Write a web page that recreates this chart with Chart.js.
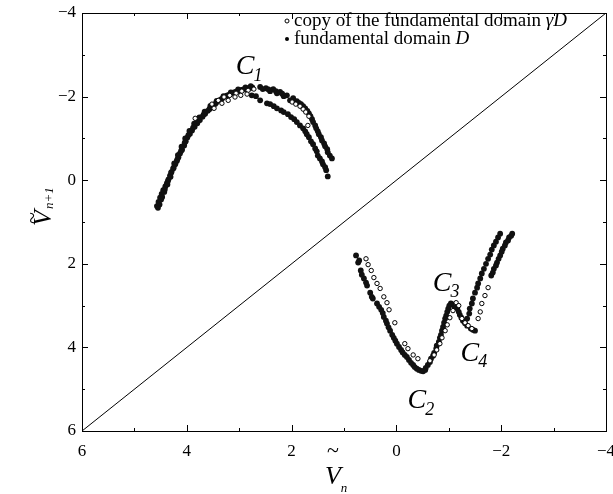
<!DOCTYPE html>
<html>
<head>
<meta charset="utf-8">
<script src="https://cdn.jsdelivr.net/npm/chart.js@4.4.1/dist/chart.umd.min.js"></script>
<style>
  html, body { margin: 0; padding: 0; background: #fff; }
  #wrap { width: 613px; height: 494px; }
</style>
</head>
<body>
<div id="wrap"><canvas id="returnMap" width="613" height="494"></canvas></div>
<script>
// axis range (both axes run "backwards") and tick step
const axisMin = -4;
const axisMax = 6;
const tickStep = 2;

// fundamental domain D, [V_n, V_n+1] per branch
const c1Left = [
  [4.57, 0.62], [4.54, 0.52], [4.51, 0.42], [4.48, 0.33], [4.45, 0.24], [4.41, 0.15],
  [4.38, 0.07], [4.35, -0.02], [4.32, -0.11], [4.29, -0.20], [4.26, -0.28], [4.22, -0.38],
  [4.19, -0.46], [4.16, -0.55], [4.13, -0.64], [4.09, -0.73], [4.05, -0.83], [4.02, -0.93],
  [3.99, -1.02], [3.94, -1.11], [3.90, -1.19], [3.85, -1.28], [3.80, -1.36], [3.75, -1.44],
  [3.70, -1.52], [3.65, -1.59], [3.60, -1.66], [3.55, -1.73], [3.50, -1.79], [3.44, -1.85],
  [3.38, -1.91], [3.31, -1.97], [3.24, -2.02], [3.17, -2.06], [3.10, -2.10], [3.03, -2.13],
  [2.96, -2.16], [2.89, -2.18], [2.82, -2.20], [2.75, -2.22],
  [4.52, 0.58], [4.47, 0.40], [4.42, 0.22], [4.36, 0.02], [4.30, -0.18], [4.24, -0.40],
  [4.17, -0.60], [4.10, -0.80], [4.03, -1.00], [3.95, -1.18], [3.86, -1.35], [3.76, -1.50],
  [3.66, -1.64], [3.55, -1.78], [3.43, -1.90], [3.30, -2.01], [3.16, -2.10], [3.02, -2.17],
  [2.88, -2.22], [2.78, -2.25],
  [4.55, 0.66], [4.49, 0.46], [4.43, 0.28], [4.37, 0.10], [4.31, -0.08], [4.25, -0.30],
  [4.18, -0.50], [4.11, -0.70], [4.04, -0.90], [3.97, -1.08], [3.88, -1.26], [3.78, -1.43],
  [3.68, -1.57], [3.57, -1.70], [3.46, -1.82], [3.34, -1.94], [3.20, -2.04], [3.06, -2.12],
  [2.92, -2.17], [2.80, -2.20]
];
const c1Outer = [
  [2.60, -2.23], [2.49, -2.20], [2.35, -2.18], [2.22, -2.11], [2.09, -2.03], [1.97, -1.96],
  [1.90, -1.89], [1.82, -1.82], [1.74, -1.72], [1.67, -1.60], [1.61, -1.46], [1.55, -1.31],
  [1.50, -1.17], [1.44, -1.03], [1.38, -0.88], [1.32, -0.74], [1.27, -0.59], [1.23, -0.52],
  [2.55, -2.18], [2.41, -2.13], [2.28, -2.08], [2.15, -2.01], [2.03, -1.91], [1.59, -1.39],
  [1.53, -1.24], [1.48, -1.10], [1.42, -0.95], [1.36, -0.81], [1.31, -0.67],
  [2.44, -2.17], [2.30, -2.13], [2.18, -2.07], [1.86, -1.85], [1.78, -1.77], [1.70, -1.66],
  [1.64, -1.53]
];
const c1Inner = [
  [2.76, -2.03], [2.68, -2.01], [2.60, -1.91], [2.47, -1.84], [2.34, -1.77], [2.20, -1.67],
  [2.07, -1.58], [1.95, -1.46], [1.84, -1.31], [1.74, -1.17], [1.67, -1.03], [1.59, -0.86],
  [1.52, -0.69], [1.46, -0.52], [1.40, -0.38], [1.34, -0.24], [1.31, -0.09],
  [2.15, -1.63], [2.01, -1.51], [1.90, -1.39], [1.78, -1.24], [1.71, -1.10], [1.63, -0.93],
  [1.55, -0.76], [1.50, -0.59], [1.42, -0.45], [1.36, -0.31], [2.41, -1.82], [2.28, -1.72]
];
const vLeft = [
  [0.77, 1.80], [0.73, 1.97], [0.68, 2.16], [0.62, 2.35], [0.56, 2.52], [0.50, 2.69],
  [0.45, 2.83], [0.37, 2.95], [0.29, 3.10], [0.24, 3.27], [0.18, 3.43], [0.12, 3.60],
  [0.05, 3.77], [-0.01, 3.91], [-0.09, 4.06], [-0.16, 4.18], [-0.24, 4.30], [-0.32, 4.42],
  [-0.39, 4.51], [-0.47, 4.56], [-0.55, 4.54],
  [0.71, 1.92], [0.66, 2.26], [0.58, 2.45], [0.47, 2.79], [0.33, 3.03], [0.20, 3.36],
  [0.08, 3.70], [-0.05, 3.99], [-0.20, 4.23], [-0.35, 4.47],
  [0.26, 3.18], [0.15, 3.52], [0.02, 3.84], [-0.12, 4.12], [-0.28, 4.37], [-0.43, 4.54],
  [-0.51, 4.57]
];
const vRight = [
  [-0.60, 4.42], [-0.66, 4.27], [-0.72, 4.13], [-0.77, 3.96], [-0.83, 3.77], [-0.87, 3.60],
  [-0.91, 3.41], [-0.95, 3.24], [-0.99, 3.07], [-1.04, 2.95], [-1.10, 3.00], [-1.16, 3.07],
  [-1.21, 3.22], [-1.27, 3.36], [-1.35, 3.48], [-1.42, 3.55], [-1.50, 3.60],
  [-0.56, 4.49], [-0.64, 4.35], [-0.70, 4.20], [-0.76, 4.03], [-0.81, 3.87], [-0.85, 3.70],
  [-0.89, 3.51], [-0.93, 3.31], [-0.97, 3.15], [-1.01, 3.00],
  [-1.07, 2.97], [-1.13, 3.03], [-1.19, 3.15], [-1.24, 3.29], [-1.31, 3.42], [-1.46, 3.58]
];
const strandA = [
  [-1.35, 3.31], [-1.40, 3.07], [-1.46, 2.83], [-1.54, 2.57], [-1.60, 2.35], [-1.67, 2.12],
  [-1.75, 1.88], [-1.82, 1.66], [-1.90, 1.47], [-1.98, 1.28],
  [-1.39, 3.19], [-1.44, 2.95], [-1.50, 2.69], [-1.56, 2.47], [-1.63, 2.23], [-1.71, 2.00],
  [-1.79, 1.78], [-1.86, 1.56], [-1.94, 1.37]
];
const strandB = [
  [-1.81, 2.28], [-1.86, 2.12], [-1.92, 1.97], [-1.98, 1.80], [-2.03, 1.64], [-2.09, 1.49],
  [-2.15, 1.37], [-2.21, 1.28],
  [-1.84, 2.21], [-1.90, 2.04], [-1.95, 1.88], [-2.01, 1.71], [-2.07, 1.56], [-2.13, 1.44],
  [-2.19, 1.33]
];

// copy of the fundamental domain, gamma D
const copyC1 = [
  [3.84, -1.48], [3.52, -1.82], [3.40, -1.91], [3.29, -1.99], [3.18, -2.03], [3.06, -2.08],
  [2.95, -2.13], [2.83, -2.15], [2.72, -2.18], [3.48, -1.72], [3.33, -1.84], [3.21, -1.91],
  [3.08, -1.99], [2.97, -2.03], [2.85, -2.06],
  [1.99, -1.87], [1.92, -1.82], [1.84, -1.77], [1.78, -1.70], [1.73, -1.63], [1.67, -1.53],
  [1.69, -1.31]
];
const copyVLeft = [
  [0.58, 1.88], [0.54, 2.02], [0.48, 2.16], [0.43, 2.33], [0.37, 2.47], [0.31, 2.59],
  [0.24, 2.79], [0.18, 2.93], [0.14, 3.10], [0.03, 3.41], [-0.16, 3.91], [-0.22, 4.03],
  [-0.32, 4.18], [-0.41, 4.27]
];
const copyVRight = [
  [-0.64, 4.32], [-0.72, 4.18], [-0.77, 4.06], [-0.83, 3.91], [-0.87, 3.77], [-0.93, 3.60],
  [-0.97, 3.46], [-1.02, 3.29], [-1.08, 3.12], [-1.14, 2.93], [-1.19, 3.00], [-1.25, 3.31],
  [-1.31, 3.41], [-1.37, 3.48], [-1.44, 3.55],
  [-1.56, 3.31], [-1.60, 3.15], [-1.63, 2.95], [-1.69, 2.76], [-1.75, 2.57]
];

// V_n+1 = V_n
const diagonal = [[axisMax, axisMax], [axisMin, axisMin]];

const domainPts = [...c1Left, ...c1Outer, ...c1Inner, ...vLeft, ...vRight, ...strandA, ...strandB];
const copyPts = [...copyC1, ...copyVLeft, ...copyVRight];

const SERIF = '"Liberation Serif", "DejaVu Serif", serif';

// curve labels: data-space anchor of the C, then subscript
const curveLabels = [
  { sub: '1', x: 2.89, y: -2.71 },
  { sub: '2', x: -0.39, y: 5.28 },
  { sub: '3', x: -0.87, y: 2.47 },
  { sub: '4', x: -1.40, y: 4.15 }
];

function fmtTick(v) {
  return v < 0 ? '\u2212' + Math.abs(v) : String(v);
}

// box round the plot with small inward ticks on every side
const frameTicks = {
  id: 'frameTicks',
  afterDatasetsDraw(chart) {
    const { ctx, chartArea: a, scales: { x, y } } = chart;
    ctx.save();
    ctx.strokeStyle = '#000';
    ctx.lineWidth = 1;
    ctx.beginPath();
    ctx.moveTo(a.left, a.top + 0.5);
    ctx.lineTo(a.right + 0.5, a.top + 0.5);
    ctx.lineTo(a.right + 0.5, a.bottom);
    ctx.stroke();
    ctx.beginPath();
    for (let v = axisMin; v <= axisMax; v++) {
      const len = v % tickStep === 0 ? 6 : 3;
      const px = Math.round(x.getPixelForValue(v)) + 0.5;
      const py = Math.round(y.getPixelForValue(v)) + 0.5;
      ctx.moveTo(px, a.bottom); ctx.lineTo(px, a.bottom - len);
      ctx.moveTo(px, a.top); ctx.lineTo(px, a.top + len);
      ctx.moveTo(a.left, py); ctx.lineTo(a.left + len, py);
      ctx.moveTo(a.right, py); ctx.lineTo(a.right - len, py);
    }
    ctx.stroke();
    ctx.restore();
  }
};

// legend in the top right corner, axis titles and curve names
const annotations = {
  id: 'annotations',
  afterDraw(chart) {
    const { ctx, scales: { x, y } } = chart;
    ctx.save();
    ctx.fillStyle = '#000';
    ctx.strokeStyle = '#000';
    ctx.textBaseline = 'middle';

    // legend
    const rows = [
      { text: 'copy of the fundamental domain ', sym: '\u03b3D', open: true, y: 21 },
      { text: 'fundamental domain ', sym: 'D', open: false, y: 39 }
    ];
    rows.forEach(r => {
      ctx.beginPath();
      ctx.arc(287, r.y, 2, 0, Math.PI * 2);
      if (r.open) {
        ctx.fillStyle = '#fff'; ctx.fill();
        ctx.lineWidth = 1; ctx.stroke();
        ctx.fillStyle = '#000';
      } else {
        ctx.fill();
      }
      ctx.textAlign = 'left';
      ctx.font = '19px ' + SERIF;
      ctx.fillText(r.text, 294, r.y);
      const w = ctx.measureText(r.text).width;
      ctx.font = 'italic 19px ' + SERIF;
      ctx.fillText(r.sym, 294 + w, r.y);
    });

    // curve names C1..C4
    curveLabels.forEach(l => {
      const px = x.getPixelForValue(l.x);
      const py = y.getPixelForValue(l.y);
      ctx.textAlign = 'center';
      ctx.font = 'italic 28px ' + SERIF;
      ctx.fillText('C', px, py);
      ctx.font = 'italic 18px ' + SERIF;
      ctx.fillText(l.sub, px + 13, py + 9);
    });

    // x title: V~ with subscript n
    ctx.textAlign = 'center';
    ctx.font = '22px ' + SERIF;
    ctx.fillText('~', 333, 451);
    ctx.font = 'italic 26px ' + SERIF;
    ctx.fillText('V', 333, 477);
    ctx.font = 'italic 13px ' + SERIF;
    ctx.fillText('n', 344, 489);

    // y title, rotated: V~ with subscript n+1
    ctx.translate(44, 218);
    ctx.rotate(-Math.PI / 2);
    ctx.font = '22px ' + SERIF;
    ctx.fillText('~', 0, -11);
    ctx.font = 'italic 26px ' + SERIF;
    ctx.fillText('V', 0, 0);
    ctx.font = 'italic 13px ' + SERIF;
    ctx.textAlign = 'left';
    ctx.fillText('n+1', 9, 6);
    ctx.restore();
  }
};

const axisCommon = {
  type: 'linear',
  min: axisMin,
  max: axisMax,
  reverse: true,
  border: { display: true, color: '#000', width: 1 },
  grid: { display: true, drawOnChartArea: false, drawTicks: false },
  ticks: {
    stepSize: tickStep,
    color: '#000',
    font: { family: SERIF, size: 17 },
    callback: fmtTick
  }
};

new Chart(document.getElementById('returnMap'), {
  type: 'scatter',
  data: {
    datasets: [
      {
        label: 'copy of the fundamental domain \u03b3D',
        data: copyPts,
        order: 0,
        pointRadius: 2.2,
        pointBorderWidth: 1,
        pointBackgroundColor: '#fff',
        pointBorderColor: '#000'
      },
      {
        label: 'fundamental domain D',
        data: domainPts,
        order: 1,
        pointRadius: 2.9,
        pointBorderWidth: 0,
        pointBackgroundColor: '#111',
        pointBorderColor: '#111'
      },
      {
        label: 'diagonal',
        data: diagonal,
        order: 2,
        showLine: true,
        borderColor: '#000',
        borderWidth: 1,
        pointRadius: 0
      }
    ]
  },
  options: {
    responsive: false,
    animation: false,
    events: [],
    layout: { padding: { left: 0, right: 7, top: 13, bottom: 0 } },
    plugins: {
      legend: { display: false },
      tooltip: { enabled: false }
    },
    scales: {
      x: Object.assign({}, axisCommon, {
        position: 'bottom',
        ticks: Object.assign({}, axisCommon.ticks, { padding: 10, maxRotation: 0 }),
        afterFit(s) { s.height = 63; s.paddingLeft = 0; s.paddingRight = 0; }
      }),
      y: Object.assign({}, axisCommon, {
        position: 'left',
        ticks: Object.assign({}, axisCommon.ticks, { padding: 6 }),
        afterFit(s) { s.width = 82; s.paddingTop = 0; s.paddingBottom = 0; }
      })
    }
  },
  plugins: [frameTicks, annotations]
});
</script>
</body>
</html>
